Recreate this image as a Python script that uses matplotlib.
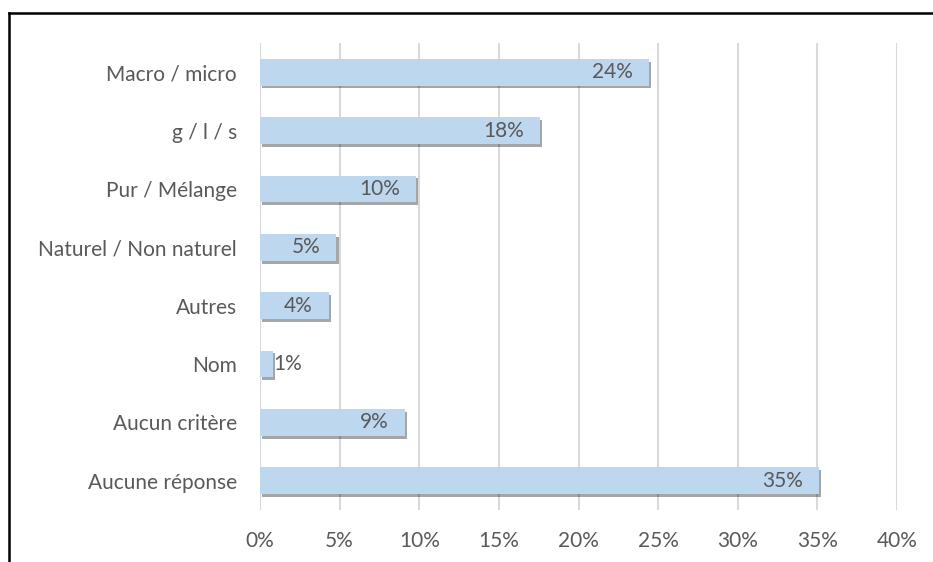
import matplotlib.pyplot as plt
import matplotlib.patheffects as pe
from matplotlib.lines import Line2D

categories = ["Macro / micro", "g / l / s", "Pur / Mélange", "Naturel / Non naturel",
              "Autres", "Nom", "Aucun critère", "Aucune réponse"]
values = [24.4, 17.6, 9.8, 4.8, 4.3, 0.8, 9.1, 35.1]
labels = ["24%", "18%", "10%", "5%", "4%", "1%", "9%", "35%"]
ticks = [0, 5, 10, 15, 20, 25, 30, 35, 40]

plt.rcParams['font.family'] = ['Lato', 'DejaVu Sans']
text_color = "#595959"
fs = 15

fig = plt.figure(figsize=(9.33, 5.62), dpi=100)
ax = fig.add_axes([0.2787, 0.0925, 0.6827, 0.831])

ypos = list(range(len(categories)))
bars = ax.barh(ypos, values, height=0.46, color="#BDD7EE", zorder=3)
for b in bars:
    b.set_path_effects([pe.SimplePatchShadow(offset=(1.5, -2), shadow_rgbFace="#000000", alpha=0.35), pe.Normal()])

for y, v, lab in zip(ypos, values, labels):
    if v < 2:
        ax.annotate(lab, (v, y), xytext=(0.5, 0), textcoords="offset points",
                    ha="left", va="center", fontsize=fs, color=text_color, zorder=4)
    else:
        ax.annotate(lab, (v, y), xytext=(-11.5, 0), textcoords="offset points",
                    ha="right", va="center", fontsize=fs, color=text_color, zorder=4)

ax.set_xlim(0, 40)
ax.set_ylim(len(categories) - 0.5, -0.5)
ax.set_yticks(ypos)
ax.set_yticklabels(categories, fontsize=fs, color=text_color)
ax.set_xticks(ticks)
ax.set_xticklabels([f"{t}%" for t in ticks], fontsize=fs, color=text_color)
ax.tick_params(axis="both", length=0)
ax.tick_params(axis="y", pad=16.5)
ax.tick_params(axis="x", pad=15)
ax.grid(axis="x", color="#D9D9D9", linewidth=1.5, zorder=0)
for s in ax.spines.values():
    s.set_visible(False)

# frame around the chart (top and left visible in the crop)
fig.add_artist(Line2D([0.0096, 1.0], [0.9769, 0.9769], color="black", linewidth=1.8))
fig.add_artist(Line2D([0.0096, 0.0096], [0.0, 0.9769], color="black", linewidth=1.8))

fig.savefig("out.png", dpi=100)
